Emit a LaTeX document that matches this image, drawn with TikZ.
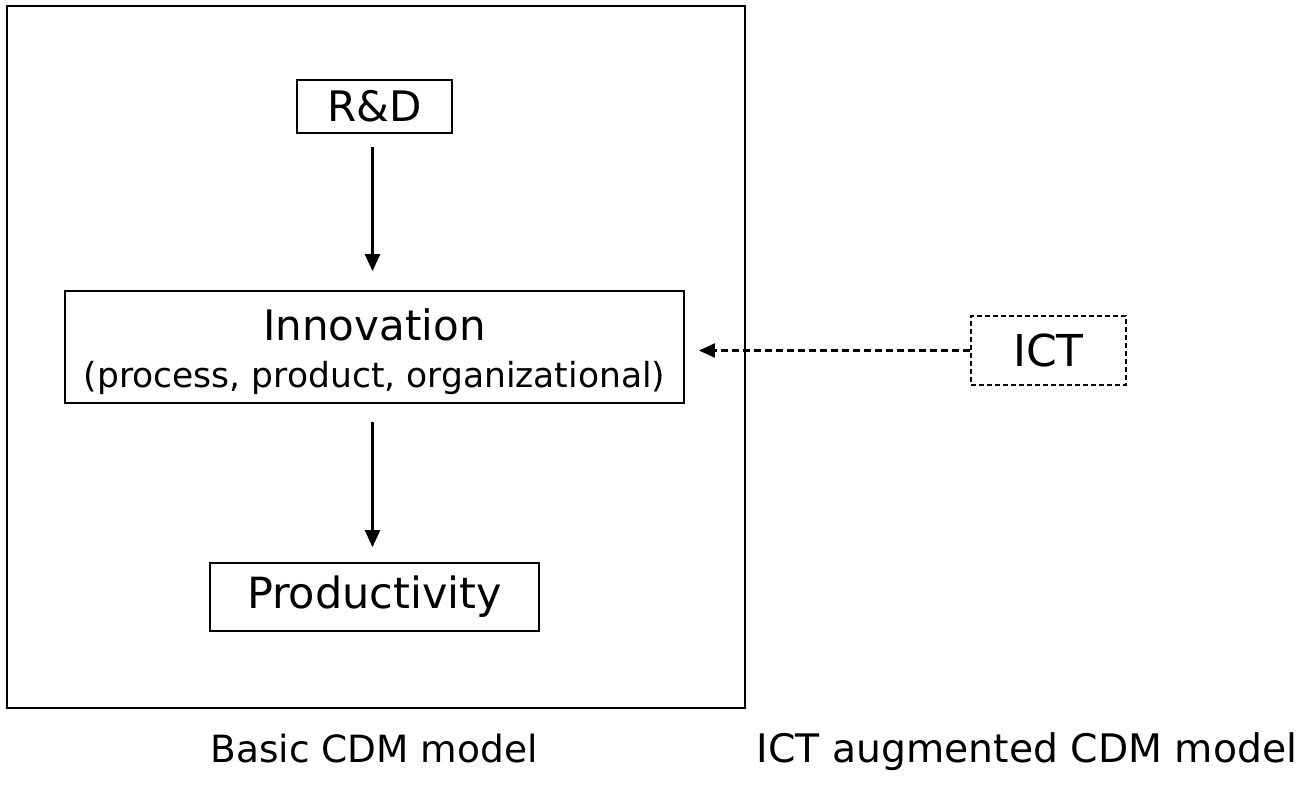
\documentclass[tikz,border=0pt]{standalone}
\usepackage{fontspec}
\setmainfont{DejaVu Sans}
\usetikzlibrary{arrows.meta}
\begin{document}
\begin{tikzpicture}[x=1pt,y=-1pt,
  box/.style={draw,line width=1.8pt,inner sep=0pt,anchor=center},
  flow/.style={line width=2.6pt,-{Triangle[length=17pt,width=15pt]}},
  dflow/.style={line width=2.2pt,dash pattern=on 7pt off 4pt,-{Triangle[length=16pt,width=14pt]}}]
\useasboundingbox (0,0) rectangle (1311,784);
\node[box,minimum width=738pt,minimum height=702pt] (outer) at (376,357) {};
\node[box,minimum width=155pt,minimum height=53pt,font=\fontsize{42}{50}\selectfont] (rd) at (374.5,106.5) {R\&D};
\node[box,minimum width=619pt,minimum height=112pt] (inn) at (374.5,347) {};
\node[anchor=base,inner sep=0pt,font=\fontsize{42}{48}\selectfont] (inntitle) at (374.5,340) {Innovation};
\node[anchor=base,inner sep=0pt,font=\fontsize{34.5}{40}\selectfont] (innsub) at (374.5,387) {(process, product, organizational)};
\node[box,minimum width=329pt,minimum height=68pt,font=\fontsize{43}{50}\selectfont] (prod) at (374.5,597) {Productivity};
\node[box,dash pattern=on 5pt off 3pt,minimum width=155pt,minimum height=69pt,font=\fontsize{44}{50}\selectfont] (ict) at (1048.5,350.5) {ICT};
\draw[flow,shorten <=13pt,shorten >=19pt] ([xshift=-2pt]rd.south) -- ([xshift=-2pt]rd.south |- inn.north);
\draw[flow,shorten <=18pt,shorten >=15pt] ([xshift=-2pt]inn.south) -- ([xshift=-2pt]inn.south |- prod.north);
\draw[dflow,shorten >=14pt] (ict.west) -- (ict.west -| inn.east);
\node[anchor=base,font=\fontsize{37.5}{44}\selectfont] (lab1) at (374,762) {Basic CDM model};
\node[anchor=base,font=\fontsize{39.3}{44}\selectfont] (lab2) at (1027,762) {ICT augmented CDM model};
\end{tikzpicture}
\end{document}
